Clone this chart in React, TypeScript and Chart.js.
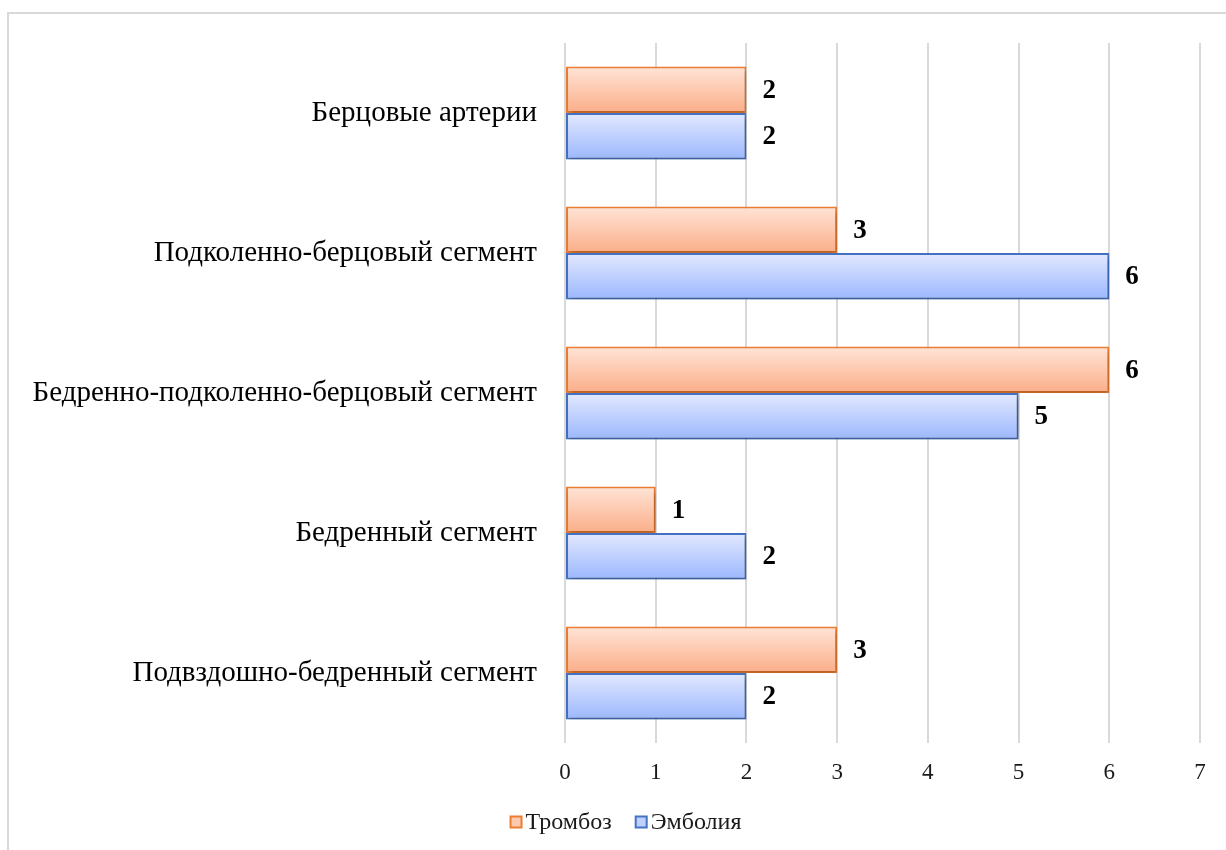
import React, { useEffect, useRef } from "react";
import { Chart, registerables } from "chart.js";

Chart.register(...registerables);

const categories = [
  "Берцовые артерии",
  "Подколенно-берцовый сегмент",
  "Бедренно-подколенно-берцовый сегмент",
  "Бедренный сегмент",
  "Подвздошно-бедренный сегмент",
];
const thrombosis = [2, 3, 6, 1, 3];
const embolism = [2, 6, 5, 2, 2];
const seriesNames = ["Тромбоз", "Эмболия"];
const xTicks = [0, 1, 2, 3, 4, 5, 6, 7];

const SERIF = "'Liberation Serif', 'Times New Roman', serif";
const CAT_PCT = 0.664;

const palettes = [
  { top: "#ffe4d7", bottom: "#fbae88", border: "#ed7d31", legend: "#fcc8ae" },
  { top: "#e3e9ff", bottom: "#9bb7fe", border: "#4472c4", legend: "#bfd0fe" },
];

// Vertical gradient across the thickness of each bar
function barFill(ctx: any) {
  const chart = ctx.chart;
  const pal = palettes[ctx.datasetIndex];
  const y = chart.scales?.y;
  if (!chart.chartArea || !y || ctx.dataIndex === undefined) return pal.bottom;
  const center = y.getPixelForValue(ctx.dataIndex);
  const step = Math.abs(y.getPixelForValue(1) - y.getPixelForValue(0));
  const thick = (step * CAT_PCT) / 2;
  const top = ctx.datasetIndex === 0 ? center - thick : center;
  const g = chart.ctx.createLinearGradient(0, top, 0, top + thick);
  g.addColorStop(0, pal.top);
  g.addColorStop(1, pal.bottom);
  return g;
}

const shadowPlugin = {
  id: "barShadow",
  beforeDatasetsDraw(chart: any) {
    const c = chart.ctx;
    c.save();
    c.shadowColor = "rgba(0,0,0,0.28)";
    c.shadowBlur = 5;
    c.shadowOffsetX = 2;
    c.shadowOffsetY = 3;
  },
  afterDatasetsDraw(chart: any) {
    chart.ctx.restore();
  },
};

const valueLabels = {
  id: "valueLabels",
  afterDraw(chart: any) {
    const c = chart.ctx;
    c.save();
    c.font = `bold 27px ${SERIF}`;
    c.fillStyle = "#000";
    c.textAlign = "left";
    c.textBaseline = "middle";
    chart.data.datasets.forEach((ds: any, di: number) => {
      const meta = chart.getDatasetMeta(di);
      meta.data.forEach((el: any, i: number) => {
        c.fillText(String(ds.data[i]), el.x + 16, el.y + 1);
      });
    });
    c.restore();
  },
};

// Compact legend: small square swatch tight against its label
const compactLegend = {
  id: "compactLegend",
  afterDraw(chart: any) {
    const c = chart.ctx;
    c.save();
    c.font = `24px ${SERIF}`;
    c.textBaseline = "middle";
    c.textAlign = "left";
    const box = 11;
    const gap = 4;
    const spacing = 24;
    const widths = seriesNames.map((t) => c.measureText(t).width);
    const total =
      widths.reduce((s, w) => s + box + gap + w, 0) + spacing * (seriesNames.length - 1);
    const cy = chart.height - 28;
    let x = chart.width / 2 + 13 - total / 2;
    seriesNames.forEach((t, i) => {
      c.fillStyle = palettes[i].legend;
      c.strokeStyle = palettes[i].border;
      c.lineWidth = 2;
      c.fillRect(x, cy - box / 2, box, box);
      c.strokeRect(x, cy - box / 2, box, box);
      c.fillStyle = "#1a1a1a";
      c.fillText(t, x + box + gap, cy + 1);
      x += box + gap + widths[i] + spacing;
    });
    c.restore();
  },
};

export default function App() {
  const canvasRef = useRef<HTMLCanvasElement | null>(null);

  useEffect(() => {
    if (!canvasRef.current) return;
    const chart = new Chart(canvasRef.current, {
      type: "bar",
      data: {
        labels: categories,
        datasets: [thrombosis, embolism].map((data, i) => ({
          label: seriesNames[i],
          data,
          backgroundColor: barFill,
          borderColor: palettes[i].border,
          borderWidth: 2,
          borderSkipped: false,
          barPercentage: 1,
          categoryPercentage: CAT_PCT,
        })),
      },
      options: {
        indexAxis: "y",
        animation: false,
        responsive: false,
        devicePixelRatio: 1,
        layout: { padding: { top: 43, right: 26, bottom: 52, left: 0 } },
        scales: {
          x: {
            min: 0,
            max: 7,
            afterBuildTicks(scale: any) {
              scale.ticks = xTicks.map((v) => ({ value: v }));
            },
            afterFit(scale: any) {
              scale.height = 55;
              scale.paddingLeft = 0;
              scale.paddingRight = 0;
            },
            grid: { color: "#d9d9d9", lineWidth: 2, drawTicks: false },
            border: { display: false },
            ticks: {
              padding: 16,
              color: "#1a1a1a",
              font: { family: SERIF, size: 23 },
            },
          },
          y: {
            afterFit(scale: any) {
              scale.width = 565;
              scale.paddingTop = 0;
              scale.paddingBottom = 0;
            },
            grid: { display: false, drawTicks: false },
            border: { display: false },
            ticks: {
              padding: 28,
              color: "#000",
              font: { family: SERIF, size: 29 },
            },
          },
        },
        plugins: {
          tooltip: { enabled: false },
          legend: { display: false },
        },
      },
      plugins: [shadowPlugin, valueLabels, compactLegend],
    } as any);
    return () => chart.destroy();
  }, []);

  return (
    <div
      style={{
        position: "fixed",
        left: 0,
        top: 0,
        width: 1226,
        height: 850,
        overflow: "hidden",
        background: "#fff",
      }}
    >
      <div
        style={{
          position: "absolute",
          left: 7,
          top: 12,
          width: 1300,
          height: 900,
          border: "2px solid #d9d9d9",
          boxSizing: "border-box",
        }}
      />
      <canvas
        ref={canvasRef}
        width={1226}
        height={850}
        style={{ position: "absolute", left: 0, top: 0, width: 1226, height: 850 }}
      />
    </div>
  );
}
